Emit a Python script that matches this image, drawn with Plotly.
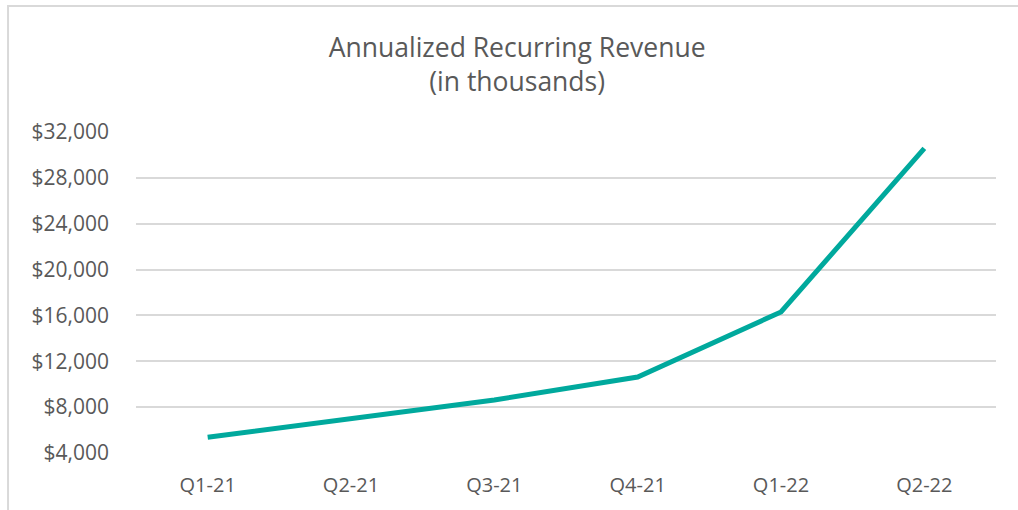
import plotly.graph_objects as go

quarters = ["Q1-21", "Q2-21", "Q3-21", "Q4-21", "Q1-22", "Q2-22"]
arr = [5380, 7000, 8620, 10630, 16300, 30580]
y_ticks = [4000, 8000, 12000, 16000, 20000, 24000, 28000, 32000]
y_tick_text = ["$4,000", "$8,000", "$12,000", "$16,000", "$20,000", "$24,000", "$28,000", "$32,000"]

fig = go.Figure()
fig.add_trace(go.Scatter(
    x=quarters, y=arr, mode="lines",
    line=dict(color="#00a99d", width=5),
    hoverinfo="skip",
))

fig.update_layout(
    width=1018, height=510,
    margin=dict(l=136, r=22, t=132, b=57, autoexpand=False),
    paper_bgcolor="white", plot_bgcolor="white",
    font=dict(family="Open Sans", color="#595959"),
    showlegend=False,
    title=dict(
        text="Annualized Recurring Revenue<br>(in thousands)",
        x=0.508, xanchor="center", y=0.889, yanchor="middle",
        font=dict(size=26.5, color="#595959"),
    ),
    xaxis=dict(
        range=[-0.5, 5.5],
        showgrid=False, zeroline=False, showline=False,
        tickfont=dict(size=20, color="#595959"),
        ticklabelstandoff=18,
    ),
    yaxis=dict(
        range=[4000, 32000],
        tickvals=y_ticks, ticktext=y_tick_text,
        showgrid=True, gridcolor="#d9d9d9", gridwidth=1.5,
        zeroline=False, showline=False,
        tickfont=dict(size=21, color="#595959"),
        ticklabelstandoff=26,
    ),
    shapes=[dict(
        type="rect", xref="paper", yref="paper",
        x0=-0.1488, x1=1.5, y0=-0.5, y1=1.3925,
        line=dict(color="#d9d9d9", width=2), fillcolor="rgba(0,0,0,0)",
        layer="below",
    )],
)

fig.write_html("out.html")
